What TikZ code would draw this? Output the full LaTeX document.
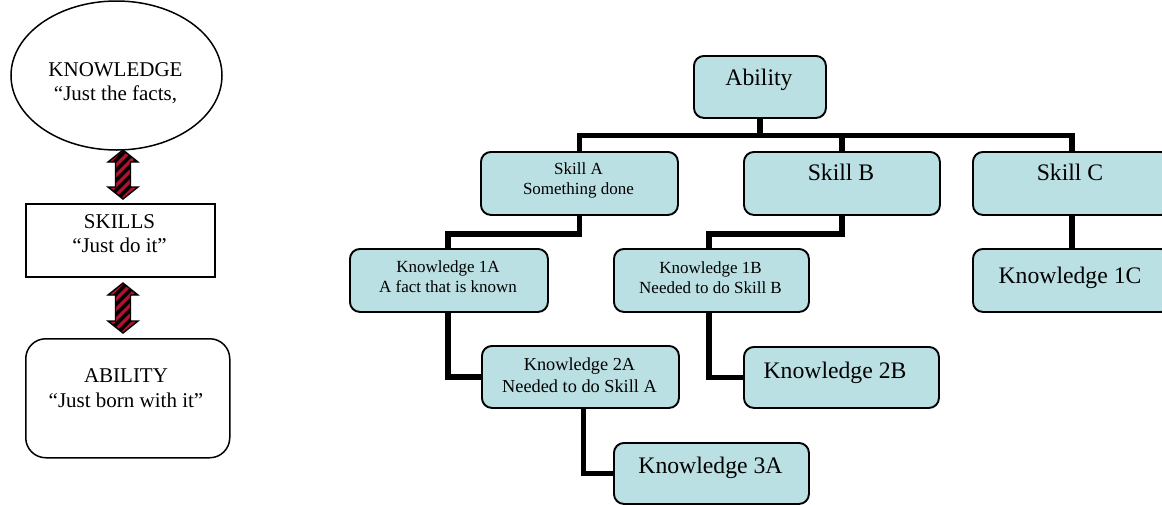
\documentclass[tikz,border=0pt]{standalone}
\usepackage{fontspec}
\setmainfont{Liberation Serif}
\usetikzlibrary{shapes.geometric,calc,backgrounds}
\definecolor{boxblue}{RGB}{187,224,227}
\definecolor{arrred}{RGB}{178,18,50}
\newcommand\arrowoutline[3]{(#1,#2) -- ({#1+15},{#2+12}) -- ({#1+7.5},{#2+12}) -- ({#1+7.5},{#3-12}) -- ({#1+15},{#3-12}) -- (#1,#3) -- ({#1-15},{#3-12}) -- ({#1-7.5},{#3-12}) -- ({#1-7.5},{#2+12}) -- ({#1-15},{#2+12}) -- cycle}
\newcommand\stripedarrow[3]{%
  \begin{scope}
    \clip \arrowoutline{#1}{#2}{#3};
    \fill[black] ({#1-20},{#2-2}) rectangle ({#1+20},{#3+2});
    \foreach \k in {-9,...,9} {\fill[arrred] ({#1+\k*10-25},{#3+2}) -- ++(4.5,0) -- ++(60,-60) -- ++(-4.5,0) -- cycle;}
  \end{scope}
  \draw[line width=1.4pt, line join=miter] \arrowoutline{#1}{#2}{#3};
}
\begin{document}
\begin{tikzpicture}[x=1pt,y=-1pt,
  tbox/.style={draw, line width=1.9pt, fill=boxblue, rounded corners=10pt, inner sep=0pt, anchor=north west},
  lshape/.style={draw, line width=1.5pt, inner sep=0pt},
  conn/.style={line width=5.6pt, line join=miter},
  txt/.style={inner sep=0pt, anchor=base},
  big/.style={font=\fontsize{23.7}{28}\selectfont},
  small/.style={font=\fontsize{17}{20}\selectfont},
  mid/.style={font=\fontsize{18.3}{22}\selectfont},
  left/.style={font=\fontsize{21}{25}\selectfont}]
\useasboundingbox (0,0) rectangle (1162,504);
\clip (0,0) rectangle (1162,504);

% ---- left column ----
\node[lshape, ellipse, minimum width=211, minimum height=149] (know) at (116.5,75.5) {};
\node[txt, left] (know1) at (115.5,76) {KNOWLEDGE};
\node[txt, left] (know2) at (115.5,100) {“Just the facts,};

\node[lshape, minimum width=189, minimum height=73, anchor=north west] (skl) at (25,203) {};
\node[txt, left] (skl1) at (119.5,228) {SKILLS};
\node[txt, left] (skl2) at (119.5,252) {“Just do it”};

\node[lshape, rounded corners=20pt, minimum width=204, minimum height=119, anchor=north west] (abl) at (25,338) {};
\node[txt, left] (abl1) at (126,382) {ABILITY};
\node[txt, left] (abl2) at (126,407) {“Just born with it”};

\stripedarrow{123}{150}{199}
\stripedarrow{123}{283}{333}

% ---- tree ----
\node[tbox, minimum width=132, minimum height=62] (ab) at (693,55) {};
\node[txt, big] (abt) at (759,85) {Ability};

\node[tbox, minimum width=197, minimum height=63] (skA) at (480,151) {};
\node[txt, small] (skAt1) at (578.5,174) {Skill A};
\node[txt, small] (skAt2) at (578.5,194) {Something done};

\node[tbox, minimum width=196, minimum height=63] (skB) at (743,151) {};
\node[txt, big] (skBt) at (841,180) {Skill B};

\node[tbox, minimum width=198, minimum height=63] (skC) at (972,151) {};
\node[txt, big] (skCt) at (1070,180) {Skill C};

\node[tbox, minimum width=198, minimum height=63] (k1A) at (349,248) {};
\node[txt, small] (k1At1) at (448,272) {Knowledge 1A};
\node[txt, small] (k1At2) at (448,292) {A fact that is known};

\node[tbox, minimum width=195, minimum height=63] (k1B) at (613,248) {};
\node[txt, small] (k1Bt1) at (710.5,273) {Knowledge 1B};
\node[txt, small] (k1Bt2) at (710.5,293) {Needed to do Skill B};

\node[tbox, minimum width=198, minimum height=63] (k1C) at (972,248) {};
\node[txt, big] (k1Ct) at (1070,283) {Knowledge 1C};

\node[tbox, minimum width=197, minimum height=62] (k2A) at (481,345) {};
\node[txt, mid] (k2At1) at (579.5,370) {Knowledge 2A};
\node[txt, mid] (k2At2) at (579.5,392) {Needed to do Skill A};

\node[tbox, minimum width=195, minimum height=61] (k2B) at (743,346) {};
\node[txt, big] (k2Bt) at (835,378) {Knowledge 2B};

\node[tbox, minimum width=195, minimum height=61] (k3A) at (613,442) {};
\node[txt, big] (k3At) at (710.5,473) {Knowledge 3A};

\begin{pgfonlayer}{background}
  \draw[conn] (skA.north) -- ++(0,-15.5) coordinate (barA) -| (skC.north);
  \draw[conn] (ab.south) -- (ab.south |- barA);
  \draw[conn] (skB.north) -- (skB.north |- barA);
  \draw[conn] (skA.south) -- ++(0,18) -| ($(k2A.west)+(-33,0)$) -- (k2A.west);
  \draw[conn] (skB.south) -- ++(0,18) -| ($(k2B.west)+(-34,0)$) -- (k2B.west);
  \draw[conn] (skC.south) -- (k1C.north);
  \draw[conn] ($(k2A.south)+(3,0)$) |- (k3A.west);
\end{pgfonlayer}
\end{tikzpicture}
\end{document}
